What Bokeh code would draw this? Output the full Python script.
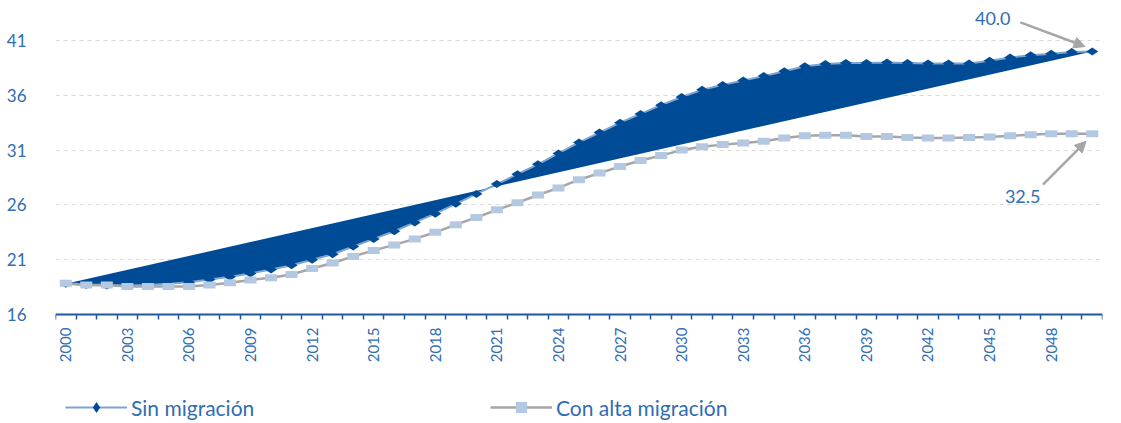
import math
from bokeh.plotting import figure
from bokeh.models import (Range1d, FixedTicker, Legend, LegendItem, Arrow,
                          NormalHead, Label, ColumnDataSource)
from bokeh.embed import file_html
from bokeh.resources import INLINE

# ---------------- data ----------------
years = list(range(2000, 2051))

sin_migracion = [18.8, 18.7, 18.65, 18.65, 18.7, 18.8, 18.95, 19.2, 19.45, 19.75,
                 20.1, 20.5, 21.0, 21.5, 22.2, 22.9, 23.6, 24.4, 25.2, 26.1,
                 27.0, 27.9, 28.8, 29.7, 30.7, 31.7, 32.6, 33.5, 34.3, 35.1,
                 35.85, 36.5, 36.95, 37.35, 37.75, 38.2, 38.65, 38.85, 38.95, 38.95,
                 39.0, 38.95, 38.9, 38.9, 38.9, 39.15, 39.45, 39.65, 39.8, 39.95,
                 40.0]

con_alta_migracion = [18.85, 18.7, 18.7, 18.55, 18.55, 18.55, 18.55, 18.7, 18.9, 19.15,
                      19.35, 19.65, 20.2, 20.7, 21.3, 21.85, 22.35, 22.9, 23.5, 24.2,
                      24.85, 25.55, 26.2, 26.9, 27.55, 28.3, 28.9, 29.5, 30.05, 30.5,
                      31.0, 31.3, 31.5, 31.65, 31.8, 32.1, 32.3, 32.35, 32.35, 32.25,
                      32.25, 32.15, 32.1, 32.1, 32.15, 32.2, 32.3, 32.4, 32.5, 32.5,
                      32.5]

x_tick_years = list(range(2000, 2050, 3))
y_ticks = [16, 21, 26, 31, 36, 41]

label_sin = "Sin migración"
label_con = "Con alta migración"
end_label_sin = "40.0"
end_label_con = "32.5"

# ---------------- style ----------------
DARK = "#004b96"
SIN_LINE = "#7ea4d1"
LIGHT = "#b4c8e1"
GREY = "#a6a6a6"
TXT = "#2f6db3"
AXIS = "#1f58a0"
FONT = "Lato"

p = figure(width=1121, height=423, output_backend="svg", toolbar_location=None,
           x_range=Range1d(1999.5, 2050.5), y_range=Range1d(6.055, 44.65),
           min_border_top=0, min_border_left=55, min_border_right=19,
           min_border_bottom=0)
p.outline_line_color = None
p.background_fill_color = "white"
p.border_fill_color = "white"
# a range far from the data: markers mapped to it fall outside the frame,
# so they only show up as the legend's square symbol
p.extra_y_ranges = {"legend_only": Range1d(500, 600)}

# Sin migración: closed polygon of the series (filled), line and diamonds
p.patch(years, sin_migracion, fill_color=DARK, line_color=None)
sin_line = p.line(years, sin_migracion, line_color=SIN_LINE, line_width=2)
sin_pts = p.scatter(years, sin_migracion, marker="diamond", size=12, angle=math.pi / 2,
                    fill_color=DARK, line_color=None)

# Con alta migración: grey line with light-blue squares
con_src = ColumnDataSource(dict(x=years, y=con_alta_migracion))
con_line = p.line("x", "y", source=con_src, line_color=GREY, line_width=2.5)
p.rect("x", "y", source=con_src, width=12, height=7, width_units="screen",
       height_units="screen", fill_color=LIGHT, line_color=None)
con_leg = p.scatter("x", "y", source=con_src, y_range_name="legend_only",
                    marker="square", size=11, fill_color=LIGHT, line_color=None)

# axes
xa = p.xaxis[0]
xa.fixed_location = y_ticks[0]
xa.ticker = FixedTicker(ticks=x_tick_years,
                        minor_ticks=[y - 0.5 for y in years] + [years[-1] + 0.5])
xa.major_label_orientation = math.pi / 2
xa.major_tick_out = 0
xa.major_tick_in = 0
xa.minor_tick_out = 5
xa.minor_tick_in = 0
xa.minor_tick_line_color = AXIS
xa.minor_tick_line_width = 1.5
xa.axis_line_color = AXIS
xa.axis_line_width = 2
xa.major_label_standoff = 8
xa.major_label_text_font = FONT
xa.major_label_text_font_size = "15px"
xa.major_label_text_color = TXT

ya = p.yaxis[0]
ya.ticker = FixedTicker(ticks=y_ticks)
ya.axis_line_color = None
ya.major_tick_line_color = None
ya.minor_tick_line_color = None
ya.major_label_standoff = 23
ya.major_label_text_font = FONT
ya.major_label_text_font_size = "17px"
ya.major_label_text_color = TXT

p.xgrid.grid_line_color = None
p.ygrid.grid_line_color = "#d9d9d9"
p.ygrid.grid_line_dash = "4 4"
p.ygrid.grid_line_width = 1

# end annotations
last = years[-1]
p.add_layout(Arrow(end=NormalHead(size=11, fill_color=GREY, line_color=GREY),
                   x_start=last - 3.5, y_start=sin_migracion[-1] + 2.65,
                   x_end=last - 0.35, y_end=sin_migracion[-1] + 0.45,
                   line_color=GREY, line_width=2.5))
p.add_layout(Arrow(end=NormalHead(size=11, fill_color=GREY, line_color=GREY),
                   x_start=last - 2.4, y_start=con_alta_migracion[-1] - 4.65,
                   x_end=last - 0.3, y_end=con_alta_migracion[-1] - 0.7,
                   line_color=GREY, line_width=2.5))
p.add_layout(Label(x=last - 3.98, y=sin_migracion[-1] + 3.0, text=end_label_sin,
                   text_align="right", text_baseline="middle",
                   text_font=FONT, text_font_size="18px", text_color=TXT))
p.add_layout(Label(x=last - 2.52, y=con_alta_migracion[-1] - 5.73, text=end_label_con,
                   text_align="right", text_baseline="middle",
                   text_font=FONT, text_font_size="18px", text_color=TXT))

common = dict(orientation="horizontal", glyph_width=62, glyph_height=28, label_height=28,
              label_standoff=4, padding=0, margin=0, border_line_color=None,
              background_fill_alpha=0, label_text_font=FONT,
              label_text_font_size="21px", label_text_color=TXT)
leg1 = Legend(items=[LegendItem(label=label_sin, renderers=[sin_line, sin_pts])],
              location=(10, 2), **common)
leg2 = Legend(items=[LegendItem(label=label_con, renderers=[con_line, con_leg])],
              location=(435, 2), **common)
p.add_layout(leg1, "center")
p.add_layout(leg2, "center")

open("out.html", "w").write(file_html(p, INLINE))
